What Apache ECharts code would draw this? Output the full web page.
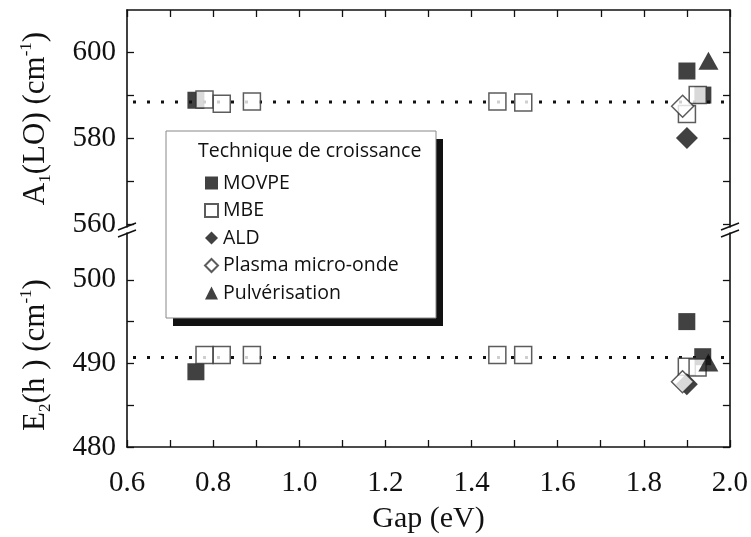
<!DOCTYPE html>
<html>
<head>
<meta charset="utf-8">
<script src="https://cdn.jsdelivr.net/npm/echarts@6/dist/echarts.min.js"></script>
<style>
  html, body { margin: 0; padding: 0; background: #fff; }
  #chart { width: 751px; height: 537px; }
</style>
</head>
<body>
<div id="chart"></div>
<script>
// Band gap (eV) versus Raman mode positions (cm-1), grouped by growth technique
const movpeGap = [0.76, 1.90, 1.937];
const movpeA1  = [588.8, 595.6, 590.0];
const movpeE2  = [489.0, 495.0, 490.8];

const mbeGap = [0.78, 0.82, 0.89, 1.46, 1.52, 1.90, 1.925];
const mbeA1  = [589.0, 588.0, 588.5, 588.5, 588.3, 585.6, 590.0];
const mbeE2  = [491.0, 491.0, 491.0, 491.0, 491.0, 489.6, 489.5];

const aldGap = [1.90];
const aldA1  = [580.0];
const aldE2  = [487.5];

const plasmaGap = [1.89];
const plasmaA1  = [587.4];
const plasmaE2  = [487.8];

const pulvGap = [1.95];
const pulvA1  = [598.0];
const pulvE2  = [490.1];

// Mean mode positions drawn as dotted guides
const a1Mean = 588.4;
const e2Mean = 490.7;

// Axis ticks and labels
const gapTicks  = [0.6, 0.7, 0.8, 0.9, 1.0, 1.1, 1.2, 1.3, 1.4, 1.5, 1.6, 1.7, 1.8, 1.9, 2.0];
const gapLabels = [0.6, 0.8, 1.0, 1.2, 1.4, 1.6, 1.8, 2.0];
const a1Ticks   = [560, 570, 580, 590, 600];
const a1Labels  = [560, 580, 600];
const e2Ticks   = [480, 485, 490, 495, 500];
const e2Labels  = [480, 490, 500];

const techniques = ['MOVPE', 'MBE', 'ALD', 'Plasma micro-onde', 'Pulvérisation'];

// Layout
const W = 751, H = 537;
const L = 127, R = 21;
const TOP = 10, BREAK_HI = 227, BREAK_LO = 233, BOTTOM = 447;
const BOX = { x: 166, y: 131, w: 270, h: 187, sx: 7, sy: 8 };

const SERIF = 'Liberation Serif, Times New Roman, serif';
const SANS = 'Open Sans, Liberation Sans, sans-serif';
const INK = '#111';

function pairs(xs, ys) { return xs.map((x, i) => [x, ys[i]]); }

const filled = { color: INK };
const hollow = { color: '#fff', borderColor: '#333', borderWidth: 1.5 };

function pts(name, symbol, size, style, xs, ys, idx) {
  return {
    name, type: 'scatter', symbol, symbolSize: size,
    xAxisIndex: idx, yAxisIndex: idx * 2,
    itemStyle: style, data: pairs(xs, ys), z: 3
  };
}

function guide(y, idx) {
  return {
    type: 'line', xAxisIndex: idx, yAxisIndex: idx * 2,
    showSymbol: false, silent: true, z: 2,
    lineStyle: { color: INK, width: 3, type: [3, 11], dashOffset: -6 },
    data: [[0.6, y], [2.0, y]]
  };
}

const tickStyle = (vals) => ({ show: true, inside: true, length: 7, customValues: vals, lineStyle: { color: INK, width: 1.3 } });
const lineStyle = { show: true, lineStyle: { color: INK, width: 1.6 } };
const labelStyle = { fontFamily: SERIF, fontSize: 29, color: INK };

const nameRich = {
  b:   { fontFamily: SERIF, fontSize: 31, color: INK, lineHeight: 36, verticalAlign: 'middle' },
  sub: { fontFamily: SERIF, fontSize: 17, color: INK, lineHeight: 14, verticalAlign: 'bottom' },
  sup: { fontFamily: SERIF, fontSize: 17, color: INK, lineHeight: 14, verticalAlign: 'top' }
};

const chart = echarts.init(document.getElementById('chart'), null, { renderer: 'canvas' });

chart.setOption({
  animation: false,
  backgroundColor: '#fff',
  title: {
    text: 'Technique de croissance',
    left: 193, top: 136, z: 20,
    textStyle: { fontFamily: SANS, fontSize: 19.5, fontWeight: 'normal', color: INK }
  },
  legend: {
    data: techniques,
    orient: 'vertical',
    left: 204, top: 172,
    padding: 0,
    itemGap: 5.5,
    itemWidth: 13, itemHeight: 13,
    itemTextGap: 11,
    z: 20,
    textStyle: { fontFamily: SANS, fontSize: 19.5, lineHeight: 22, color: INK }
  },
  grid: [
    { left: L, right: R, top: TOP, height: BREAK_HI - TOP },
    { left: L, right: R, top: BREAK_LO, height: BOTTOM - BREAK_LO }
  ],
  xAxis: [
    {
      gridIndex: 0, type: 'value', position: 'top', min: 0.6, max: 2.0,
      axisLine: lineStyle, axisTick: tickStyle(gapTicks),
      axisLabel: { show: false }, splitLine: { show: false }
    },
    {
      gridIndex: 1, type: 'value', position: 'bottom', min: 0.6, max: 2.0,
      axisLine: lineStyle, axisTick: tickStyle(gapTicks),
      axisLabel: Object.assign({ customValues: gapLabels, margin: 22, formatter: v => v.toFixed(1) }, labelStyle),
      splitLine: { show: false },
      name: 'Gap (eV)', nameLocation: 'middle', nameGap: 57,
      nameTextStyle: { fontFamily: SERIF, fontSize: 30, color: INK }
    }
  ],
  yAxis: [
    {
      gridIndex: 0, type: 'value', position: 'left', min: 559.3, max: 609.8,
      axisLine: lineStyle, axisTick: tickStyle(a1Ticks),
      axisLabel: Object.assign({ customValues: a1Labels, margin: 11 }, labelStyle),
      splitLine: { show: false },
      name: '{b|A}{sub|1}{b|(LO) (cm}{sup|-1}{b|)}',
      nameLocation: 'middle', nameRotate: 90, nameGap: 73,
      nameTextStyle: { rich: nameRich }
    },
    {
      gridIndex: 0, type: 'value', position: 'right', min: 559.3, max: 609.8,
      axisLine: lineStyle, axisTick: tickStyle(a1Ticks),
      axisLabel: { show: false }, splitLine: { show: false }
    },
    {
      gridIndex: 1, type: 'value', position: 'left', min: 480, max: 505.6,
      axisLine: lineStyle, axisTick: tickStyle(e2Ticks),
      axisLabel: Object.assign({ customValues: e2Labels, margin: 11 }, labelStyle),
      splitLine: { show: false },
      name: '{b|E}{sub|2}{b|(h ) (cm}{sup|-1}{b|)}',
      nameLocation: 'middle', nameRotate: 90, nameGap: 73,
      nameTextStyle: { rich: nameRich, padding: [0, 30, 0, 0] }
    },
    {
      gridIndex: 1, type: 'value', position: 'right', min: 480, max: 505.6,
      axisLine: lineStyle, axisTick: tickStyle(e2Ticks),
      axisLabel: { show: false }, splitLine: { show: false }
    }
  ],
  series: [
    guide(a1Mean, 0),
    guide(e2Mean, 1),
    pts('MOVPE', 'rect', 17, filled, movpeGap, movpeA1, 0),
    pts('MOVPE', 'rect', 17, filled, movpeGap, movpeE2, 1),
    pts('MBE', 'rect', 17, hollow, mbeGap, mbeA1, 0),
    pts('MBE', 'rect', 17, hollow, mbeGap, mbeE2, 1),
    pts('ALD', 'diamond', [22, 22], filled, aldGap, aldA1, 0),
    pts('ALD', 'diamond', [22, 22], filled, aldGap, aldE2, 1),
    pts('Plasma micro-onde', 'diamond', [22, 22], hollow, plasmaGap, plasmaA1, 0),
    pts('Plasma micro-onde', 'diamond', [22, 22], hollow, plasmaGap, plasmaE2, 1),
    pts('Pulvérisation', 'triangle', [20, 18], filled, pulvGap, pulvA1, 0),
    pts('Pulvérisation', 'triangle', [20, 18], filled, pulvGap, pulvE2, 1)
  ],
  graphic: [
    // Legend frame with its drop shadow
    { type: 'rect', shape: { x: BOX.x + BOX.sx, y: BOX.y + BOX.sy, width: BOX.w, height: BOX.h }, style: { fill: INK }, z: 10 },
    { type: 'rect', shape: { x: BOX.x, y: BOX.y, width: BOX.w, height: BOX.h }, style: { fill: '#fff', stroke: '#888', lineWidth: 1 }, z: 11 }
  ].concat([L, W - R].flatMap(x => [
    // Axis-break marks between the two panels
    { type: 'line', shape: { x1: x - 9, y1: BREAK_HI + 3, x2: x + 9, y2: BREAK_HI - 4 }, style: { stroke: INK, lineWidth: 1.5 }, z: 10 },
    { type: 'line', shape: { x1: x - 9, y1: BREAK_LO + 4, x2: x + 9, y2: BREAK_LO - 3 }, style: { stroke: INK, lineWidth: 1.5 }, z: 10 }
  ]))
});
</script>
</body>
</html>
